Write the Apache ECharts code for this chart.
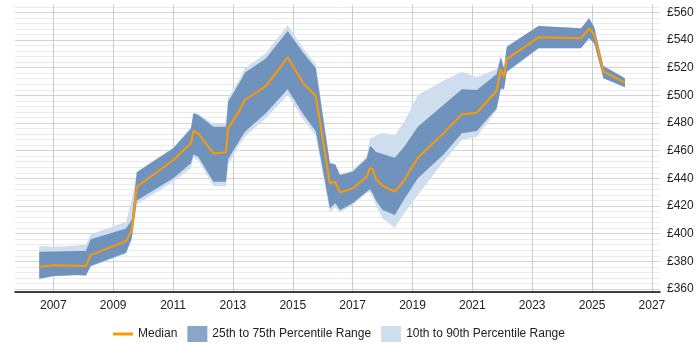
<!DOCTYPE html>
<html>
<head>
<meta charset="utf-8">
<script src="https://cdn.jsdelivr.net/npm/echarts@6/dist/echarts.min.js"></script>
<style>
  html, body { margin: 0; padding: 0; background: #fff; }
  #chart { width: 700px; height: 350px; }
</style>
</head>
<body>
<div id="chart"></div>
<script>
// data (x = decimal year, values in £)
var years = [2006.53, 2007.0, 2007.8, 2008.09, 2008.25, 2009.43, 2009.62, 2009.79, 2011.01, 2011.6,
  2011.68, 2011.84, 2012.35, 2012.77, 2012.84, 2013.21, 2013.4, 2014.1, 2014.83, 2015.35,
  2015.77, 2016.24, 2016.42, 2016.58, 2017.0, 2017.47, 2017.58, 2017.67, 2017.77, 2018.0,
  2018.41, 2018.73, 2019.18, 2020.03, 2020.65, 2021.15, 2021.81, 2021.95, 2022.06, 2022.15,
  2023.21, 2024.63, 2024.9, 2025.07, 2025.38, 2026.1];
var median = [376.1, 377.1, 376.8, 376.6, 384.5, 394.6, 402.6, 433.9, 453.2, 465.3,
  474.2, 472.5, 458, 458.8, 476.1, 488.6, 496.6, 506.7, 527.5, 508.7,
  499.5, 436.4, 437.5, 429.8, 432.7, 441.1, 447.6, 446.7, 440, 434.6,
  430.3, 438.7, 454.9, 472.5, 486.2, 487.4, 503.3, 518.8, 513.4, 526.2,
  541.9, 541.2, 548.4, 544.1, 517.1, 509.1];
var p25 = [367.4, 369.3, 370.1, 369.8, 376.6, 386.2, 396.6, 424, 440, 450.8,
  457.3, 455.5, 437.5, 437.5, 453.7, 467, 473.7, 487, 504.3, 486.4,
  474, 418.3, 421.9, 417, 421.9, 430.3, 432, 429, 424.3, 417,
  413.4, 425, 440, 457, 472.5, 474.2, 490.5, 505, 504.5, 517,
  534, 534, 541.2, 537.6, 512.3, 505.8];
var p75 = [386.9, 387, 387.4, 387.6, 395.9, 403.8, 410, 444.3, 461.7, 476.1,
  487, 485.7, 477.3, 477.3, 495.4, 508.7, 516.3, 526.7, 546.5, 530.8,
  519.5, 450.8, 450, 442.4, 444.7, 454.4, 463.3, 462, 459.2, 457.5,
  454.9, 463, 477.3, 493, 504.3, 503.8, 515.3, 527.5, 519.5, 535.1,
  550.1, 548.4, 555.7, 549.6, 521.2, 512.3];
var p10 = [367, 369, 370, 369.5, 376, 385.5, 395, 421, 437.5, 447.2,
  455, 453, 434.4, 434, 449.6, 464, 470, 483.4, 500.2, 482.5,
  470.5, 415.4, 419, 415.5, 420.5, 429.5, 430, 426, 421, 411,
  404.3, 415, 428, 452, 467.7, 470, 489, 504, 503.5, 516.5,
  534, 534, 541.2, 537.6, 512.3, 505.8];
var p90 = [391, 390.6, 391.5, 392.2, 399.5, 408.6, 424, 444.8, 462.5, 477,
  487.8, 486.8, 479.2, 479.2, 497.8, 511.5, 519.5, 530.4, 550.8, 534,
  522.5, 451.3, 450.5, 442.8, 446, 455.6, 468.9, 469.5, 470.6, 473,
  471.3, 481, 500.2, 510.5, 517, 513, 519, 528, 519.5, 535.3,
  550.1, 548.4, 555.7, 549.6, 521.2, 512.3];

var yearTicks = [2007, 2009, 2011, 2013, 2015, 2017, 2019, 2021, 2023, 2025, 2027];
var salaryLabels = [360, 380, 400, 420, 440, 460, 480, 500, 520, 540, 560];
var salaryLines = [];
for (var s = 360; s <= 564; s += 4) salaryLines.push(s);

var NAME_MED = 'Median';
var NAME_IQR = '25th to 75th Percentile Range';
var NAME_DEC = '10th to 90th Percentile Range';
var font = 'Liberation Sans, Arial, sans-serif';

// band as one polygon: upper edge left->right, lower edge right->left
function bandSeries(name, lo, hi, color, z) {
  return {
    name: name,
    type: 'custom',
    coordinateSystem: 'cartesian2d',
    silent: true,
    z: z,
    itemStyle: { color: color },
    encode: { x: 0, y: [1, 2] },
    data: years.map(function (y, i) { return [y, lo[i], hi[i]]; }),
    renderItem: function (params, api) {
      if (params.dataIndex !== 0) return null;
      var pts = [];
      for (var i = 0; i < years.length; i++) pts.push(api.coord([years[i], hi[i]]));
      for (var j = years.length - 1; j >= 0; j--) pts.push(api.coord([years[j], lo[j]]));
      return {
        type: 'polygon',
        shape: { points: pts },
        style: { fill: color, stroke: null }
      };
    }
  };
}

var chart = echarts.init(document.getElementById('chart'));
chart.setOption({
  animation: false,
  grid: { left: 15, right: 40, top: 5, bottom: 58 },
  legend: {
    top: 321,
    left: 108,
    itemWidth: 20,
    itemHeight: 16,
    itemGap: 10,
    textStyle: { fontFamily: font, fontSize: 12, color: '#222' },
    data: [
      { name: NAME_MED, icon: 'path://M0,0 H20 V3 H0 Z', itemStyle: { color: '#ff9900' } },
      { name: NAME_IQR, icon: 'rect', itemStyle: { color: '#88a6c7' } },
      { name: NAME_DEC, icon: 'rect', itemStyle: { color: '#cfdeee' } }
    ]
  },
  xAxis: {
    type: 'value',
    min: 2005.72,
    max: 2027.27,
    axisLine: { show: true, onZero: false, lineStyle: { color: '#000', width: 1.5 } },
    axisTick: { show: false, customValues: yearTicks },
    axisLabel: {
      customValues: yearTicks,
      fontFamily: font, fontSize: 12, color: '#222', margin: 8,
      formatter: function (v) { return String(v); }
    },
    splitLine: { show: true, lineStyle: { color: '#cccccc', width: 1 } }
  },
  yAxis: {
    type: 'value',
    position: 'right',
    min: 357.8,
    max: 565.3,
    axisLine: { show: false },
    axisTick: { show: false, customValues: salaryLines },
    axisLabel: {
      customValues: salaryLabels,
      fontFamily: font, fontSize: 12, color: '#222', margin: 7,
      formatter: function (v) { return '£' + v; }
    },
    splitLine: {
      show: true,
      lineStyle: { color: ['#d4d4d4', '#ebebeb', '#ebebeb', '#ebebeb', '#ebebeb'], width: 1 }
    }
  },
  series: [
    bandSeries(NAME_DEC, p10, p90, '#cfdeee', 1),
    bandSeries(NAME_IQR, p25, p75, '#6f93bc', 2),
    {
      name: NAME_MED, type: 'line', data: years.map(function (y, i) { return [y, median[i]]; }),
      symbol: 'none', color: '#ff9900',
      lineStyle: { color: '#ff9900', width: 2 }, z: 3
    }
  ]
});
</script>
</body>
</html>
